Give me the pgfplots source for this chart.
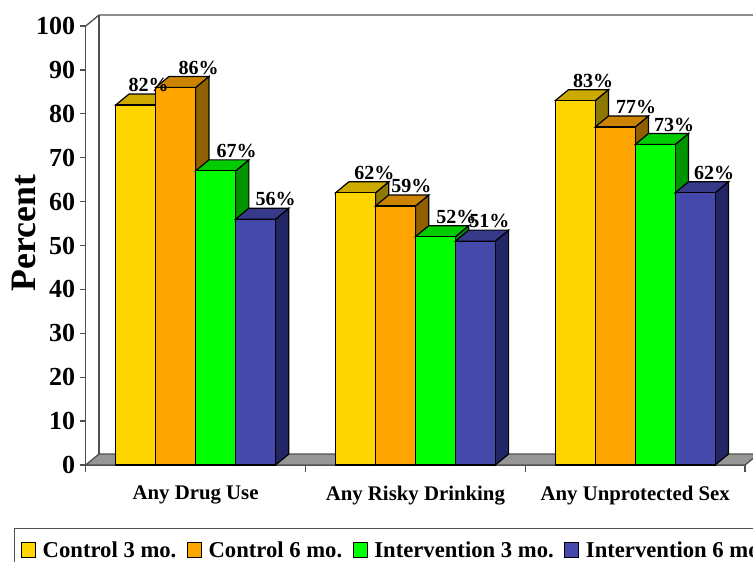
\documentclass[border=0pt]{standalone}
\usepackage{fontspec}
\setmainfont{Liberation Serif}
\usepackage{pgfplots}
\pgfplotsset{compat=1.18}
\definecolor{cgold}{HTML}{FFD500}\definecolor{cgoldt}{HTML}{CCAA00}\definecolor{cgolds}{HTML}{8F7800}
\definecolor{corange}{HTML}{FFA500}\definecolor{corangt}{HTML}{CC8400}\definecolor{corangs}{HTML}{8F5F00}
\definecolor{cgreen}{HTML}{00FF00}\definecolor{cgreent}{HTML}{00CC00}\definecolor{cgreens}{HTML}{009400}
\definecolor{cblue}{HTML}{4549AB}\definecolor{cbluet}{HTML}{373A89}\definecolor{cblues}{HTML}{232664}
\definecolor{cfloor}{HTML}{969696}
\definecolor{cwall}{HTML}{505050}
% top and side face of one bar: left edge, value, top colour, side colour
\newcommand{\barfaces}[4]{%
  \pgfmathsetmacro\xa{#1}%
  \pgfmathsetmacro\xb{#1+0.18182}%
  \pgfmathsetmacro\xc{#1+0.18182+0.0605}%
  \pgfmathsetmacro\xd{#1+0.0605}%
  \pgfmathsetmacro\vt{#2+2.5}%
  \addplot[forget plot,fill=#4,draw=black,line width=.9pt] coordinates {(\xb,0)(\xc,2.5)(\xc,\vt)(\xb,#2)} -- cycle;
  \addplot[forget plot,fill=#3,draw=black,line width=.9pt] coordinates {(\xa,#2)(\xb,#2)(\xc,\vt)(\xd,\vt)} -- cycle;
}
\begin{document}
\begin{tikzpicture}
\path[use as bounding box,clip] (0pt,0pt) rectangle (564.75pt,420.75pt);
\begin{axis}[
    at={(64.3pt,72pt)},anchor=south west,
    scale only axis,
    width=494.5pt,height=329.25pt,
    xmin=0,xmax=3,ymin=0,ymax=100,
    clip=false,
    axis x line*=bottom,axis y line*=left,
    axis line style={draw=cwall,line width=1pt,-},
    tick style={draw=cwall,line width=1pt},
    tick align=outside,
    ytick={0,10,...,100},
    xtick={0.5,1.5,2.5},
    xticklabels={Any Drug Use,Any Risky Drinking,Any Unprotected Sex},
    minor xtick={0,1,2,3},
    major x tick style={draw=none},
    major tick length=4.5pt,minor tick length=5.2pt,
    /pgf/number format/assume math mode=true,
    yticklabel style={font=\fontsize{19.5}{20}\selectfont\bfseries},
    xticklabel style={font=\fontsize{15.6}{18}\selectfont\bfseries,yshift=-7.5pt},
    ylabel={Percent},
    ylabel style={at={(axis description cs:-0.094,0.528)},anchor=center,font=\fontsize{26.8}{30}\selectfont\bfseries},
    legend columns=4,
    legend cell align=left,
    legend style={at={(axis description cs:-0.109,-0.1435)},anchor=north west,
      draw=cwall,line width=1pt,font=\fontsize{17}{20}\selectfont\bfseries,
      inner xsep=4.75pt,inner ysep=7.5pt,
      /tikz/every even column/.append style={column sep=5.7pt}},
    legend image code/.code={\draw[#1,draw=black,line width=.9pt] (0pt,-5.5pt) rectangle (10.5pt,5.5pt);},
]
% floor and back wall
\addplot[forget plot,fill=cfloor,draw=cwall,line width=1pt] coordinates {(0,0)(0.0605,2.5)(3.0605,2.5)(3,0)} -- cycle;
\addplot[forget plot,draw=cwall,line width=1pt] coordinates {(0,100)(0.0605,102.5)(3.0605,102.5)};
\addplot[forget plot,draw=cwall,line width=1pt] coordinates {(0.0605,102.5)(0.0605,2.5)};
% Control 3 mo.
\barfaces{0.13636}{82}{cgoldt}{cgolds}
\barfaces{1.13636}{62}{cgoldt}{cgolds}
\barfaces{2.13636}{83}{cgoldt}{cgolds}
\addplot[ybar,bar width=0.18182,bar shift=0pt,fill=cgold,draw=black,line width=.9pt] coordinates {(0.22727,82)(1.22727,62)(2.22727,83)};
\addlegendentry{\hspace{3pt}Control 3 mo.}
% Control 6 mo.
\barfaces{0.31818}{86}{corangt}{corangs}
\barfaces{1.31818}{59}{corangt}{corangs}
\barfaces{2.31818}{77}{corangt}{corangs}
\addplot[ybar,bar width=0.18182,bar shift=0pt,fill=corange,draw=black,line width=.9pt] coordinates {(0.40909,86)(1.40909,59)(2.40909,77)};
\addlegendentry{\hspace{3pt}Control 6 mo.}
% Intervention 3 mo.
\barfaces{0.5}{67}{cgreent}{cgreens}
\barfaces{1.5}{52}{cgreent}{cgreens}
\barfaces{2.5}{73}{cgreent}{cgreens}
\addplot[ybar,bar width=0.18182,bar shift=0pt,fill=cgreen,draw=black,line width=.9pt] coordinates {(0.59091,67)(1.59091,52)(2.59091,73)};
\addlegendentry{\hspace{3pt}Intervention 3 mo.}
% Intervention 6 mo.
\barfaces{0.68182}{56}{cbluet}{cblues}
\barfaces{1.68182}{51}{cbluet}{cblues}
\barfaces{2.68182}{62}{cbluet}{cblues}
\addplot[ybar,bar width=0.18182,bar shift=0pt,fill=cblue,draw=black,line width=.9pt] coordinates {(0.77273,56)(1.77273,51)(2.77273,62)};
\addlegendentry{\hspace{3pt}Intervention 6 mo.}
% value labels, placed by hand above the back edge of each bar
\addplot[forget plot,draw=none,mark=none,
    nodes near coords,point meta=explicit symbolic,
    every node near coord/.style={anchor=center,inner sep=0pt,font=\fontsize{15}{16}\selectfont\bfseries}]
  coordinates {
    (0.2864,86.5)[82\%] (0.5136,90.5)[86\%] (0.6864,71.5)[67\%] (0.8636,60.5)[56\%]
    (1.3136,66.5)[62\%] (1.4818,63.5)[59\%] (1.6864,56.5)[52\%] (1.8364,55.5)[51\%]
    (2.3091,87.5)[83\%] (2.5045,81.5)[77\%] (2.6773,77.5)[73\%] (2.8591,66.5)[62\%]
  };
\end{axis}
\end{tikzpicture}
\end{document}
